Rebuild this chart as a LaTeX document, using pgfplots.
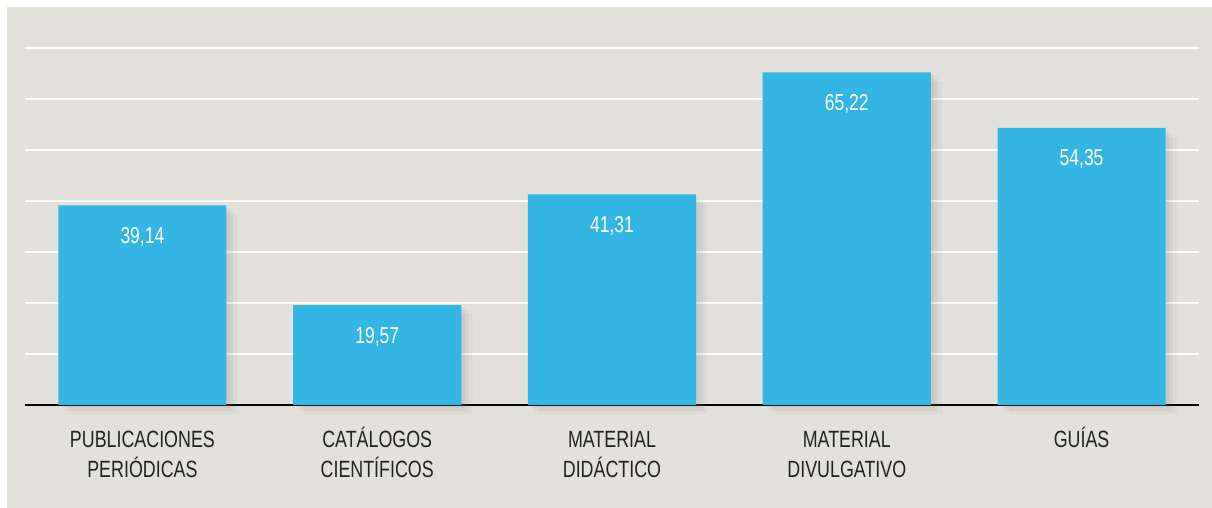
\documentclass[border=0pt]{standalone}
\usepackage{fontspec}
\setmainfont[FakeStretch=0.76]{Liberation Sans}
\usepackage{pgfplots}
\pgfplotsset{compat=1.18}
\usetikzlibrary{shadows}
\definecolor{bg}{HTML}{E3E1DC}
\definecolor{barblue}{HTML}{33B6E4}
\definecolor{txt}{HTML}{222222}

\begin{document}
\begin{tikzpicture}
\fill[white] (0,0) rectangle (606pt,254pt);
\fill[bg] (3.5pt,0) rectangle (606pt,250.5pt);
\begin{axis}[
    at={(12.5pt,51.5pt)}, anchor=south west,
    scale only axis, width=587pt, height=178.5pt,
    xmin=-0.5, xmax=4.5, ymin=0, ymax=70,
    ybar, bar width=0.716,
    axis x line*=bottom, axis y line*=left,
    y axis line style={draw=none},
    x axis line style={black, line width=1.3pt},
    ytick={10,20,...,70}, yticklabels={},
    ymajorgrids, grid style={white, line width=1pt},
    major tick length=0pt,
    xtick=data,
    xticklabels={PUBLICACIONES\\PERIÓDICAS, CATÁLOGOS\\CIENTÍFICOS, MATERIAL\\DIDÁCTICO, MATERIAL\\DIVULGATIVO, GUÍAS},
    typeset ticklabels with strut,
    xticklabel style={align=center, anchor=north, text=txt, font=\fontsize{11.75pt}{15pt}\selectfont, yshift=-7pt},
    point meta=explicit symbolic,
    nodes near coords,
    every node near coord/.append style={anchor=north, yshift=-7.5pt, text=white, font=\fontsize{11.5pt}{13pt}\selectfont},
    clip=false,
]
\addplot[fill=barblue, draw=none,
    drop shadow={opacity=0.07, shadow xshift=5.5pt, shadow yshift=-4.5pt},
    drop shadow={opacity=0.09, shadow xshift=3.5pt, shadow yshift=-3pt},
    drop shadow={opacity=0.11, shadow xshift=1.8pt, shadow yshift=-1.5pt}]
coordinates {
    (0,39.14) [39,14]
    (1,19.57) [19,57]
    (2,41.31) [41,31]
    (3,65.22) [65,22]
    (4,54.35) [54,35]
};
\end{axis}
\end{tikzpicture}
\end{document}
